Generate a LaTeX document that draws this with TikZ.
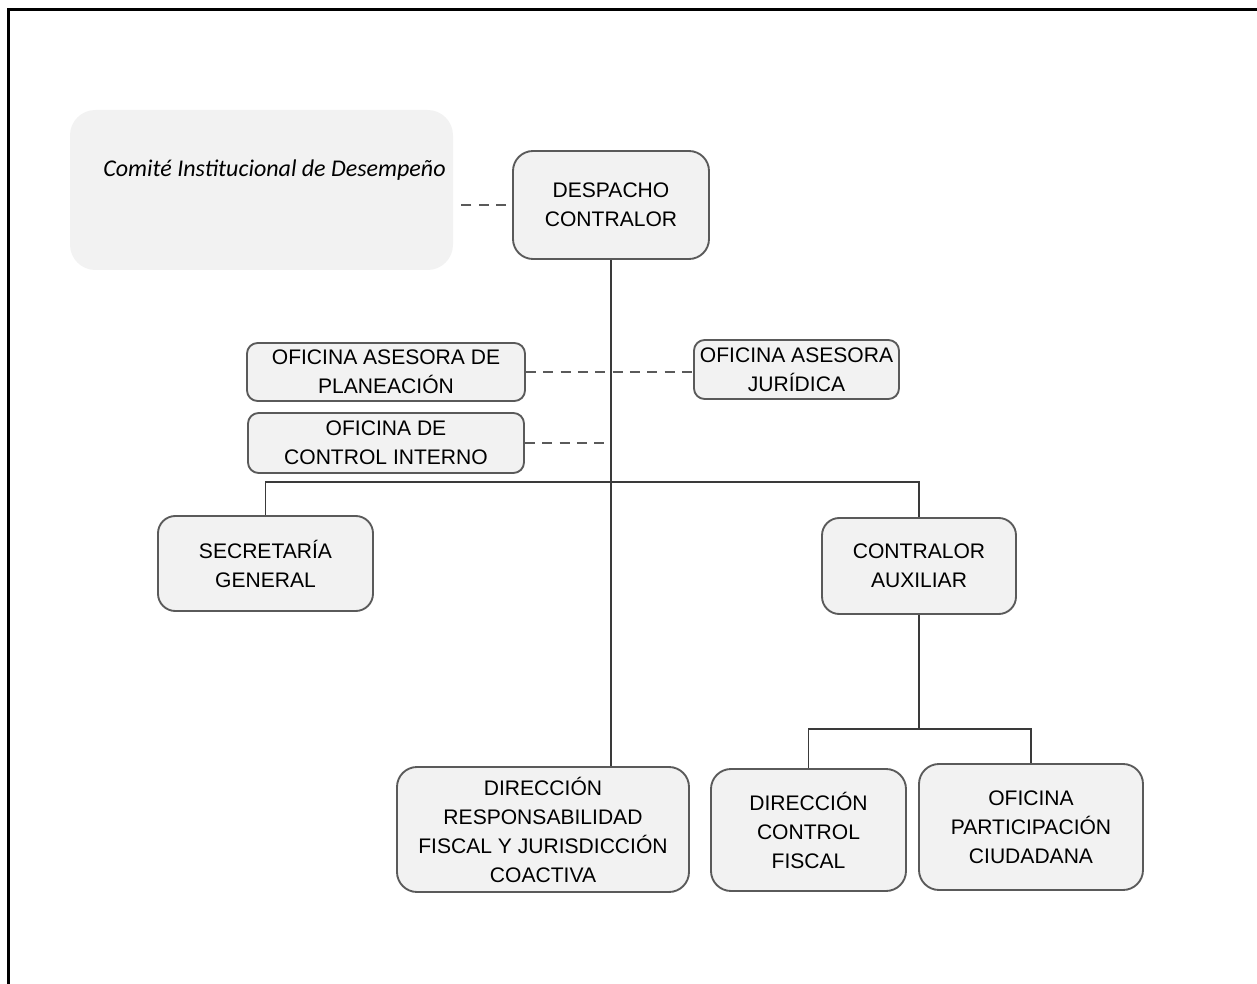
\documentclass[tikz,border=0pt]{standalone}
\usepackage{fontspec}
\setmainfont{Liberation Sans}
\newfontfamily\calibri{Carlito}
\definecolor{cajagris}{HTML}{F2F2F2}
\definecolor{bordegris}{HTML}{5A5A5A}
\definecolor{lineagris}{HTML}{3A3A3A}
\tikzset{
  caja/.style 2 args={draw=bordegris, fill=cajagris, line width=1.4pt,
    rounded corners=13pt, align=center, inner sep=0pt,
    minimum width=#1*0.75pt, minimum height=#2*0.75pt,
    font=\fontsize{15.8}{21.75}\selectfont},
  chica/.style={rounded corners=8pt},
  linea/.style={draw=lineagris, line width=1.4pt},
  enlace/.style={draw=bordegris, line width=2pt, dash pattern=on 7.5pt off 5.5pt}
}
\begin{document}
\begin{tikzpicture}[x=0.75pt, y=-0.75pt]
  \useasboundingbox (0,0) rectangle (1257,984);
  % marco
  \draw[line width=1.6pt] (8.5,984) -- (8.5,9.5) -- (1257,9.5);

  % comite
  \node[fill=cajagris, rounded corners=19pt, minimum width=383*0.75pt,
    minimum height=160*0.75pt] (comite) at (261.5,190) {};
  \node[font=\calibri\itshape\fontsize{18}{20}\selectfont] (comitetxt) at (274.5,170)
    {Comité Institucional de Desempeño};

  % cajas
  \node[caja={196}{108}, rounded corners=15pt] (desp) at (611,205) {DESPACHO\\CONTRALOR};
  \node[caja={278}{58}, chica] (plan) at (386,372) {OFICINA ASESORA DE\\PLANEACIÓN};
  \node[caja={205}{59}, chica] (jur) at (796.5,369.5) {OFICINA ASESORA\\JURÍDICA};
  \node[caja={276}{60}, chica] (ci) at (386,443) {OFICINA DE\\CONTROL INTERNO};
  \node[caja={215}{95}] (sec) at (265.5,563.5) {SECRETARÍA\\GENERAL};
  \node[caja={194}{96}] (aux) at (919,566) {CONTRALOR\\AUXILIAR};
  \node[caja={292}{125}, rounded corners=15pt] (drf) at (543,829.5)
    {DIRECCIÓN\\RESPONSABILIDAD\\FISCAL Y JURISDICCIÓN\\COACTIVA};
  \node[caja={195}{122}, rounded corners=15pt] (dcf) at (808.5,830) {DIRECCIÓN\\CONTROL\\FISCAL};
  \node[caja={224}{126}, rounded corners=15pt] (opc) at (1031,827) {OFICINA\\PARTICIPACIÓN\\CIUDADANA};

  \coordinate (barra) at (611,482);
  \coordinate (subbarra) at (919,729);

  % lineas
  \draw[linea] (desp.south) -- (desp.south |- drf.north);
  \draw[linea] (sec.north) |- (barra) -| (aux.north);
  \draw[linea] (aux.south) -- (subbarra);
  \draw[linea] (dcf.north) |- (subbarra) -| (opc.north);

  % punteadas
  \draw[enlace] ([xshift=-4.5pt]desp.west) -- ([xshift=5.25pt]comite.east |- desp.west);
  \draw[enlace] (plan.east) -- (plan.east -| jur.west);
  \draw[enlace] (ci.east) -- (ci.east -| desp.south);
\end{tikzpicture}
\end{document}
